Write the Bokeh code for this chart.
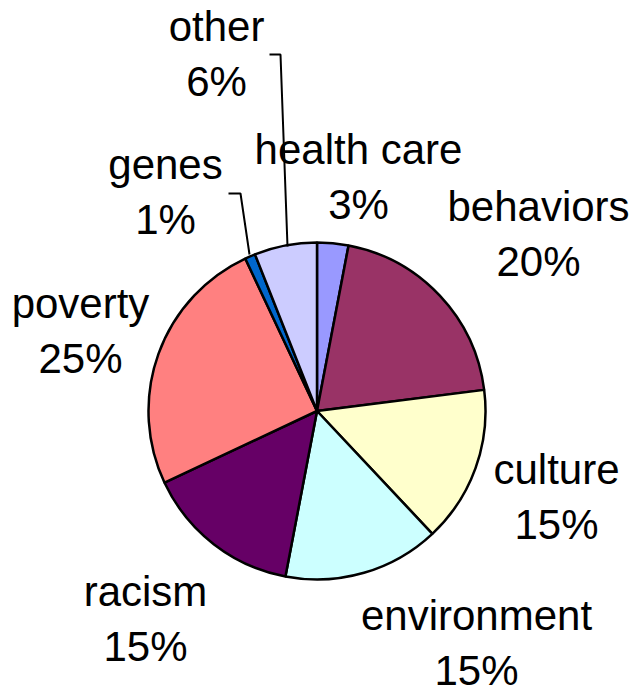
import math
from bokeh.plotting import figure
from bokeh.models import Range1d, ColumnDataSource
from bokeh.core.properties import value
from bokeh.embed import file_html
from bokeh.resources import INLINE

# ---- data ----
categories = ["health care", "behaviors", "culture", "environment",
              "racism", "poverty", "genes", "other"]
percents = [3, 20, 15, 15, 15, 25, 1, 6]
colors = ["#9999FF", "#993366", "#FFFFCC", "#CCFFFF",
          "#660066", "#FF8080", "#0066CC", "#CCCCFF"]

# ---- layout (pixel coords, y from top) ----
W, H = 631, 693
CX, CY, R = 316.5, 410.5, 168.5
TEXT_SHIFT = -14
# label centre x, first-line baseline y (second line +55)
label_pos = {
    "health care": (358, 163),
    "behaviors": (538, 220),
    "culture": (556, 483),
    "environment": (476, 629),
    "racism": (145, 605),
    "poverty": (80, 317),
    "genes": (165, 178),
    "other": (216, 40),
}
LINE_GAP = 55
leaders = {
    "other": ([269, 280, 287], [54, 54, 246]),
    "genes": ([228, 240, 249], [193, 193, 254]),
}

def fy(y):
    return H - y

total = float(sum(percents))
starts, ends = [], []
cum = 0.0
for v in percents:
    starts.append(math.pi / 2 - 2 * math.pi * cum / total)
    cum += v
    ends.append(math.pi / 2 - 2 * math.pi * cum / total)

p = figure(width=W, height=H, x_range=Range1d(0, W), y_range=Range1d(0, H),
           output_backend="svg", toolbar_location=None,
           x_axis_location=None, y_axis_location=None, min_border=0)
p.grid.visible = False
p.outline_line_color = None
p.background_fill_color = "white"

src = ColumnDataSource(dict(start=starts, end=ends, color=colors, cat=categories))
p.wedge(x=CX, y=fy(CY), radius=R, start_angle="start", end_angle="end",
        direction="clock", fill_color="color", line_color="black",
        line_width=2.5, source=src)

for name, (xs, ys) in leaders.items():
    p.line(xs, [fy(y) for y in ys], line_color="black", line_width=2)

tx, ty, tt = [], [], []
for name, v in zip(categories, percents):
    x, y = label_pos[name]
    y += TEXT_SHIFT
    tx += [x, x]
    ty += [fy(y), fy(y + LINE_GAP)]
    tt += [name, f"{v}%"]

p.text(x=tx, y=ty, text=tt, text_font=value("Liberation Sans"),
       text_font_size="42px", text_align="center", text_baseline="alphabetic",
       text_color="black")

open("out.html", "w").write(file_html(p, INLINE))
